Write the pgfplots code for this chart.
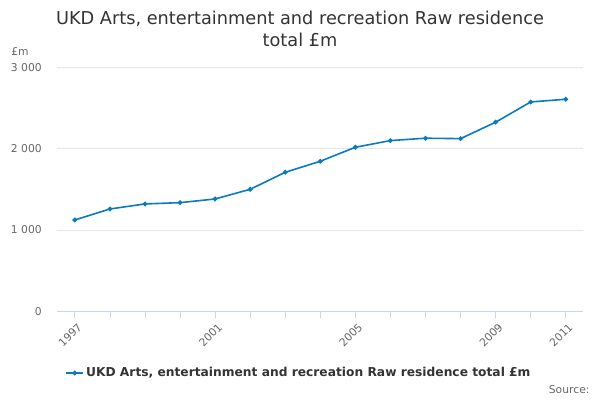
\documentclass[border=0pt]{standalone}
\usepackage{fontspec}
\setmainfont{DejaVu Sans}
\usepackage{pgfplots}
\pgfplotsset{compat=1.18}
\definecolor{line}{HTML}{0A7BC1}
\definecolor{axisc}{HTML}{CCD6EB}
\definecolor{gridc}{HTML}{E6E6E6}
\definecolor{tickc}{HTML}{666666}
\definecolor{titlec}{HTML}{333333}
\begin{document}
\begin{tikzpicture}[x=1bp,y=1bp]
\useasboundingbox (0,0) rectangle (600,400);
\node[font=\fontsize{17.8}{20}\selectfont, text=titlec] at (300,381) {UKD Arts, entertainment and recreation Raw residence};
\node[font=\fontsize{17.8}{20}\selectfont, text=titlec] at (300,360) {total £m};
\node[font=\fontsize{10.8}{12}\selectfont, text=tickc] at (20,348) {£m};
\node[font=\fontsize{10.8}{12}\selectfont, text=tickc, anchor=east] at (593,10) {Source:};
\begin{axis}[
  at={(57.3bp,88.7bp)}, anchor=south west,
  scale only axis, width=526bp, height=244bp,
  xmin=1996.5, xmax=2011.5, ymin=0, ymax=3000,
  xtick={1997,2001,2005,2009,2011},
  xticklabels={1997,2001,2005,2009,2011},
  minor xtick={1998,1999,2000,2002,2003,2004,2006,2007,2008,2010},
  ytick={0,1000,2000,3000},
  /pgf/number format/assume math mode=true,
  /pgf/number format/1000 sep={\ },
  yticklabel style={font=\fontsize{10.8}{12}\selectfont, text=tickc, xshift=-5bp},
  xticklabel style={font=\fontsize{10.8}{12}\selectfont, text=tickc, rotate=45, anchor=north east, xshift=2bp, yshift=-1bp},
  axis x line*=bottom,
  axis y line*=left,
  y axis line style={draw=none},
  ytick style={draw=none},
  x axis line style={draw=axisc, -},
  ymajorgrids, grid style={draw=gridc, line width=0.8bp},
  major tick length=7bp, minor tick length=7bp,
  xtick style={draw=axisc, line width=0.8bp},
  minor x tick style={draw=axisc, line width=0.8bp},
  tick align=outside,
  legend style={at={(0.4595,-0.253)}, anchor=center, draw=none, fill=none,
    font=\fontsize{12.3}{14}\selectfont\bfseries, text=titlec},
  legend cell align=left,
  clip=false,
]
\addplot[line, line width=1.6bp, mark=*, mark size=1.5bp] coordinates {
(1997,1123) (1998,1258) (1999,1320) (2000,1336) (2001,1381)
(2002,1500) (2003,1709) (2004,1845) (2005,2017) (2006,2099)
(2007,2128) (2008,2123) (2009,2325) (2010,2574) (2011,2607)
};
\addlegendentry{UKD Arts, entertainment and recreation Raw residence total £m}
\end{axis}
\end{tikzpicture}
\end{document}
